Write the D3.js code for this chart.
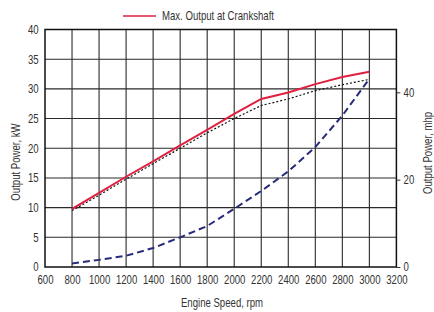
<!DOCTYPE html>
<html>
<head>
<meta charset="utf-8">
<script src="https://cdn.jsdelivr.net/npm/d3@7"></script>
<style>
  body { margin: 0; background: #fff; }
  svg text { font-family: "Liberation Sans", Arial, sans-serif; fill: #333; }
</style>
</head>
<body>
<svg id="chart" width="434" height="312"></svg>
<script>
// engine speed (rpm) at which the curves were read
const rpm = [800, 1000, 1200, 1400, 1600, 1800, 2000, 2200, 2400, 2600, 2800, 3000];
// max output at crankshaft, kW (red solid)
const maxOutput = [9.8, 12.5, 15.2, 17.8, 20.5, 23.1, 25.8, 28.3, 29.4, 30.8, 32.0, 32.9];
// dotted black curve, kW
const dottedCurve = [9.5, 12.1, 14.8, 17.4, 20.0, 22.6, 25.0, 27.2, 28.3, 29.7, 30.7, 31.6];
// dashed blue curve, kW
const dashedCurve = [0.6, 1.2, 1.9, 3.2, 5.0, 6.9, 9.8, 12.8, 16.1, 20.2, 25.5, 31.7];

const xTicks = [600, 800, 1000, 1200, 1400, 1600, 1800, 2000, 2200, 2400, 2600, 2800, 3000, 3200];
const yTicks = [0, 5, 10, 15, 20, 25, 30, 35, 40];
const mhpTicks = [0, 20, 40];

const svg = d3.select('#chart');
let margins = { 'left': 45, 'top': 29.5, 'right': 37.6, 'bottom': 45 };
let chartWidth = svg.attr('width') - margins.left - margins.right;
let chartHeight = svg.attr('height') - margins.top - margins.bottom;
// the reference uses a condensed face, so squeeze text horizontally
const squeeze = 'scale(0.8,1)';

const xScale = d3.scaleLinear().domain([600, 3200]).range([0, chartWidth]);
const yScale = d3.scaleLinear().domain([0, 40]).range([chartHeight, 0]);
// 1 kW = 1.3596 metric hp
const mhpScale = d3.scaleLinear().domain([0, 40 * 1.3596]).range([chartHeight, 0]);

let chartArea = svg.append('g').attr('transform', `translate(${margins.left},${margins.top})`);

// gridlines
chartArea.append('g')
  .selectAll('line')
  .data(xTicks.slice(1, -1))
  .join('line')
  .attr('x1', d => xScale(d)).attr('x2', d => xScale(d))
  .attr('y1', 0).attr('y2', chartHeight)
  .style('stroke', '#2a2a2a').style('stroke-width', 1.1);
chartArea.append('g')
  .selectAll('line')
  .data(yTicks.slice(1, -1))
  .join('line')
  .attr('x1', 0).attr('x2', chartWidth)
  .attr('y1', d => yScale(d)).attr('y2', d => yScale(d))
  .style('stroke', '#2a2a2a').style('stroke-width', 1.1);

// frame
chartArea.append('rect')
  .attr('x', 0).attr('y', 0)
  .attr('width', chartWidth).attr('height', chartHeight)
  .style('fill', 'none').style('stroke', '#111').style('stroke-width', 1.5);

// axes
let leftAxis = d3.axisLeft(yScale).tickValues(yTicks).tickSize(0).tickPadding(8).tickFormat(d3.format('d'));
let bottomAxis = d3.axisBottom(xScale).tickValues(xTicks).tickSize(0).tickPadding(8).tickFormat(d3.format('d'));
let rightAxis = d3.axisRight(mhpScale).tickValues(mhpTicks).tickSize(4).tickPadding(5).tickFormat(d3.format('d'));

[leftAxis, bottomAxis, rightAxis].forEach((ax, i) => {
  let g = chartArea.append('g');
  if (i == 1) g.attr('transform', `translate(0,${chartHeight})`);
  if (i == 2) g.attr('transform', `translate(${chartWidth},0)`);
  g.call(ax);
  g.select('.domain').remove();
  g.selectAll('text')
    .attr('transform', squeeze)
    .style('font-size', '12px').style('fill', '#333');
  g.selectAll('line').style('stroke', '#333');
});

// curves
const line = d3.line()
  .x(d => xScale(d[0]))
  .y(d => yScale(d[1]));

chartArea.append('path')
  .datum(rpm.map((r, i) => [r, dashedCurve[i]]))
  .attr('d', line)
  .style('fill', 'none').style('stroke', '#262b7a').style('stroke-width', 2)
  .style('stroke-dasharray', '7,4');

chartArea.append('path')
  .datum(rpm.map((r, i) => [r, dottedCurve[i]]))
  .attr('d', line)
  .style('fill', 'none').style('stroke', '#111').style('stroke-width', 1.2)
  .style('stroke-dasharray', '2,2');

chartArea.append('path')
  .datum(rpm.map((r, i) => [r, maxOutput[i]]))
  .attr('d', line)
  .style('fill', 'none').style('stroke', '#e0203f').style('stroke-width', 2);

// axis titles
svg.append('text')
  .attr('transform', `translate(20,162) rotate(-90) ${squeeze}`)
  .attr('text-anchor', 'middle')
  .style('font-size', '12px')
  .text('Output Power, kW');
svg.append('text')
  .attr('transform', `translate(432,153) rotate(-90) ${squeeze}`)
  .attr('text-anchor', 'middle')
  .style('font-size', '12px')
  .text('Output Power, mhp');
svg.append('text')
  .attr('transform', `translate(222,307) ${squeeze}`)
  .attr('text-anchor', 'middle')
  .style('font-size', '12px')
  .text('Engine Speed, rpm');

// legend
const legend = svg.append('g').attr('transform', 'translate(123,16)');
legend.append('line')
  .attr('x1', 0).attr('x2', 33).attr('y1', 0).attr('y2', 0)
  .style('stroke', '#e0203f').style('stroke-width', 1.5);
legend.append('text')
  .attr('transform', `translate(39,4) ${squeeze}`)
  .style('font-size', '12px')
  .text('Max. Output at Crankshaft');
</script>
</body>
</html>
